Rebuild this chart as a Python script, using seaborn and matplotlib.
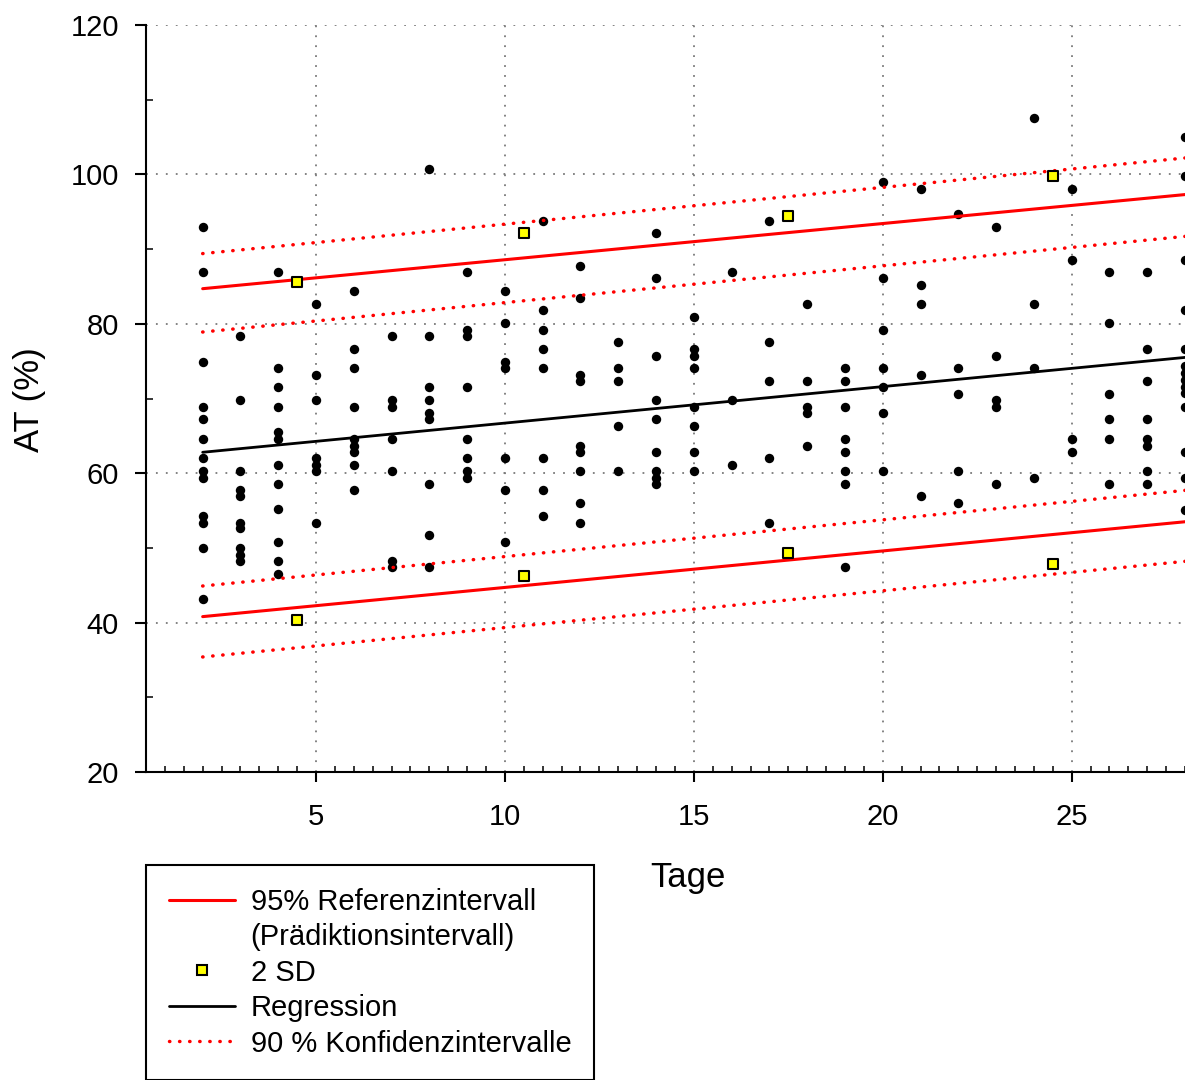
import matplotlib
matplotlib.use("Agg")
import matplotlib.pyplot as plt
from matplotlib.lines import Line2D
from matplotlib.ticker import MultipleLocator, FixedLocator
import pandas as pd
import seaborn as sns

# Messwerte: AT (%) je Tag
tage = [2, 3, 4, 5, 6, 7, 8, 9, 10, 11, 12, 13, 14, 15,
        16, 17, 18, 19, 20, 21, 22, 23, 24, 25, 26, 27, 28]
at_werte = [
    [93.0, 86.9, 74.9, 68.9, 67.2, 64.6, 62.0, 60.3, 59.4, 54.3, 53.4, 50.0, 43.1],
    [78.4, 69.8, 60.3, 57.7, 56.9, 53.4, 52.6, 50.0, 49.1, 48.2],
    [86.9, 74.1, 71.5, 68.9, 65.5, 64.6, 61.1, 58.6, 55.2, 50.8, 48.2, 46.5],
    [82.7, 73.2, 69.8, 62.0, 61.1, 60.3, 53.4],
    [84.4, 76.6, 74.1, 68.9, 64.6, 63.7, 62.8, 61.1, 57.7],
    [78.4, 69.8, 68.9, 64.6, 60.3, 48.2, 47.4],
    [100.7, 78.4, 71.5, 69.8, 68.1, 67.2, 58.6, 51.7, 47.4],
    [86.9, 79.2, 78.4, 71.5, 64.6, 62.0, 60.3, 59.4],
    [84.4, 80.1, 74.9, 74.1, 62.0, 57.7, 50.8],
    [93.8, 81.8, 79.2, 76.6, 74.1, 62.0, 57.7, 54.3],
    [87.8, 83.5, 73.2, 72.3, 63.7, 62.8, 60.3, 56.0, 53.4],
    [77.5, 74.1, 72.3, 66.3, 60.3],
    [92.1, 86.1, 75.7, 69.8, 67.2, 62.8, 60.3, 59.4, 58.6],
    [80.9, 76.6, 75.7, 74.1, 68.9, 66.3, 62.8, 60.3],
    [86.9, 69.8, 61.1],
    [93.8, 77.5, 72.3, 62.0, 53.4],
    [82.7, 72.3, 68.9, 68.1, 63.7],
    [74.1, 72.3, 68.9, 64.6, 62.8, 60.3, 58.6, 47.4],
    [99.0, 86.1, 79.2, 74.1, 71.5, 68.0, 60.3],
    [98.1, 85.2, 82.7, 73.2, 56.9],
    [94.7, 74.1, 70.6, 60.3, 56.0],
    [93.0, 75.7, 69.8, 68.9, 58.6],
    [107.6, 82.7, 74.1, 59.4],
    [98.1, 88.6, 64.6, 62.8],
    [86.9, 80.1, 70.6, 67.2, 64.6, 58.6],
    [86.9, 76.6, 72.3, 67.2, 64.6, 63.7, 60.3, 58.6],
    [105.0, 99.8, 88.6, 81.8, 76.6, 74.3, 73.4, 72.5, 71.6, 70.7, 68.9, 62.8, 59.4, 55.1],
]

# Geraden (Werte an Tag 2 und Tag 28)
linien_x = [2, 28]
regression = [62.8, 75.5]
pi_oben = [84.7, 97.3]
pi_unten = [40.8, 53.5]
ki_oben_oben = [89.4, 102.2]
ki_oben_unten = [78.9, 91.7]
ki_unten_oben = [44.9, 57.7]
ki_unten_unten = [35.4, 48.2]

# 2-SD-Grenzen
sd_x = [4.5, 10.5, 17.5, 24.5]
sd_oben = [85.6, 92.2, 94.4, 99.8]
sd_unten = [40.3, 46.2, 49.3, 47.8]

x_ticks = [5, 10, 15, 20, 25]
y_ticks = [20, 40, 60, 80, 100, 120]

sns.set_theme(style="white")
plt.rcParams["font.family"] = ["Liberation Sans", "DejaVu Sans"]
plt.rcParams["text.color"] = "black"
plt.rcParams["axes.labelcolor"] = "black"
plt.rcParams["xtick.color"] = "black"
plt.rcParams["ytick.color"] = "black"

punkte = pd.DataFrame(
    [(t, v) for t, werte in zip(tage, at_werte) for v in werte],
    columns=["Tag", "AT"],
)
sd_df = pd.DataFrame({"x": sd_x + sd_x, "y": sd_oben + sd_unten})

fig = plt.figure(figsize=(11.85, 10.8), dpi=100)
ax = fig.add_axes([146 / 1185, 308 / 1080, 1039 / 1185, 747 / 1080])

rot = "#ff0000"
punktiert = (0, (0.1, 2.8))

sns.scatterplot(data=punkte, x="Tag", y="AT", color="black", s=46,
                linewidth=0, ax=ax, zorder=3, legend=False)

for werte in (ki_oben_oben, ki_oben_unten, ki_unten_oben, ki_unten_unten):
    sns.lineplot(x=linien_x, y=werte, color=rot, linewidth=2.5,
                 linestyle=punktiert, dash_capstyle="round",
                 errorbar=None, ax=ax, zorder=4)
for werte in (pi_oben, pi_unten):
    sns.lineplot(x=linien_x, y=werte, color=rot, linewidth=2.2,
                 errorbar=None, ax=ax, zorder=4)
sns.lineplot(x=linien_x, y=regression, color="black", linewidth=2.0,
             errorbar=None, ax=ax, zorder=4)

sns.scatterplot(data=sd_df, x="x", y="y", marker="s", color="#ffff00",
                edgecolor="black", linewidth=1.5, s=45, ax=ax, zorder=5,
                legend=False)

ax.set_xlim(0.5, 28)
ax.set_ylim(20, 120)
ax.xaxis.set_major_locator(FixedLocator(x_ticks))
ax.xaxis.set_minor_locator(MultipleLocator(0.5))
ax.yaxis.set_major_locator(FixedLocator(y_ticks))
ax.yaxis.set_minor_locator(MultipleLocator(10))

ax.grid(True, which="major", color="#7a7a7a", linestyle=(0, (1, 4.5)),
        linewidth=1.3)
ax.set_axisbelow(True)

for s in ("top", "right"):
    ax.spines[s].set_visible(False)
for s in ("left", "bottom"):
    ax.spines[s].set_color("black")
    ax.spines[s].set_linewidth(1.5)

ax.tick_params(which="major", direction="out", length=8, width=1.5,
               color="black", labelsize=21, labelcolor="black")
ax.tick_params(which="minor", direction="in", length=5, width=1.1,
               color="black")
ax.tick_params(axis="x", which="major", length=7.5, pad=15)
ax.tick_params(axis="y", which="major", pad=11.5)
ax.tick_params(axis="x", which="minor", length=4.5)
ax.tick_params(left=True, bottom=True, which="both")

ax.set_xlabel("Tage", fontsize=25, color="black")
ax.set_ylabel("AT (%)", fontsize=25, color="black")
ax.xaxis.set_label_coords((688 - 146) / 1039, (772 - 877) / 747)
ax.xaxis.label.set_va("center")
ax.yaxis.set_label_coords((30 - 146) / 1039, (772 - 400) / 747)
ax.yaxis.label.set_va("center")

handles = [
    Line2D([], [], color=rot, linewidth=2.2),
    Line2D([], [], color="none"),
    Line2D([], [], linestyle="none", marker="s", markersize=6.7,
           markerfacecolor="#ffff00", markeredgecolor="black",
           markeredgewidth=1.5),
    Line2D([], [], color="black", linewidth=2.0),
    Line2D([], [], color=rot, linewidth=2.5, linestyle=punktiert,
           dash_capstyle="round"),
]
labels = [
    "95% Referenzintervall",
    "(Prädiktionsintervall)",
    "2 SD",
    "Regression",
    "90 % Konfidenzintervalle",
]
leg = fig.legend(handles, labels, loc="upper left",
                 bbox_to_anchor=(146 / 1185, 1 - 865 / 1080),
                 bbox_transform=fig.transFigure, borderaxespad=0,
                 fontsize=21, frameon=True, fancybox=False, framealpha=1,
                 handlelength=2.26, handletextpad=0.55, labelspacing=0.255,
                 borderpad=0.78, numpoints=1, labelcolor="black")
leg.get_frame().set_edgecolor("black")
leg.get_frame().set_linewidth(1.5)

fig.savefig("out.png", dpi=100)
